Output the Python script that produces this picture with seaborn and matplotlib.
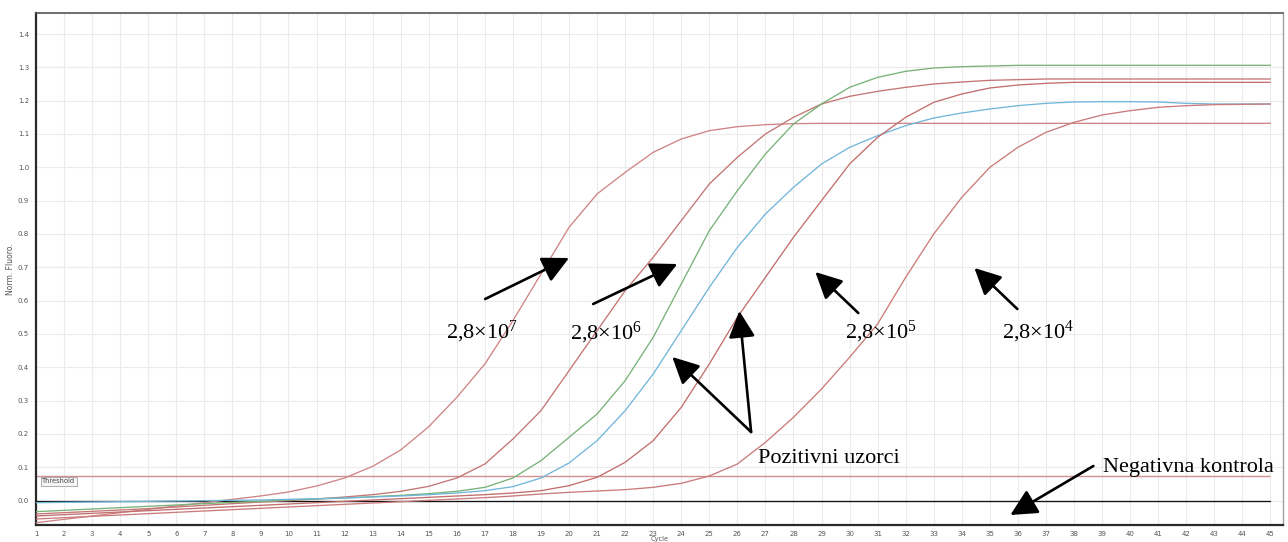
import matplotlib
matplotlib.use("Agg")
import matplotlib.pyplot as plt
import numpy as np
import pandas as pd
import seaborn as sns

# ---- amplification data (normalised fluorescence per cycle) ----
cycles = list(range(1, 46))

std_2_8e7 = [-0.066, -0.056, -0.046, -0.036, -0.026, -0.016, -0.006, 0.004, 0.014, 0.026,
             0.044, 0.068, 0.103, 0.152, 0.222, 0.310, 0.410, 0.540, 0.680, 0.820,
             0.920, 0.985, 1.045, 1.085, 1.110, 1.122, 1.128, 1.131, 1.132, 1.132,
             1.132, 1.132, 1.132, 1.132, 1.132, 1.132, 1.132, 1.132, 1.132, 1.132,
             1.132, 1.132, 1.132, 1.132, 1.132]

std_2_8e6 = [-0.040, -0.036, -0.032, -0.028, -0.024, -0.019, -0.014, -0.009, -0.004, 0.000,
             0.005, 0.011, 0.018, 0.028, 0.043, 0.068, 0.110, 0.185, 0.270, 0.390,
             0.510, 0.630, 0.730, 0.840, 0.950, 1.030, 1.100, 1.150, 1.190, 1.213,
             1.228, 1.240, 1.250, 1.256, 1.261, 1.263, 1.265, 1.265, 1.265, 1.265,
             1.265, 1.265, 1.265, 1.265, 1.265]

sample_green = [-0.033, -0.029, -0.025, -0.021, -0.017, -0.013, -0.009, -0.005, -0.002, 0.002,
                0.005, 0.008, 0.012, 0.016, 0.021, 0.028, 0.040, 0.068, 0.120, 0.190,
                0.260, 0.360, 0.490, 0.650, 0.810, 0.930, 1.040, 1.130, 1.190, 1.240,
                1.270, 1.288, 1.298, 1.302, 1.304, 1.306, 1.306, 1.306, 1.306, 1.306,
                1.306, 1.306, 1.306, 1.306, 1.306]

sample_blue = [-0.006, -0.005, -0.004, -0.003, -0.002, -0.001, 0.000, 0.001, 0.002, 0.004,
               0.006, 0.008, 0.011, 0.014, 0.018, 0.023, 0.030, 0.042, 0.068, 0.113,
               0.180, 0.270, 0.380, 0.510, 0.640, 0.760, 0.860, 0.940, 1.010, 1.060,
               1.095, 1.125, 1.148, 1.163, 1.175, 1.185, 1.192, 1.196, 1.197, 1.197,
               1.196, 1.192, 1.190, 1.190, 1.190]

std_2_8e5 = [-0.046, -0.042, -0.038, -0.034, -0.030, -0.026, -0.022, -0.018, -0.014, -0.010,
             -0.006, -0.002, 0.002, 0.006, 0.010, 0.014, 0.018, 0.023, 0.030, 0.045,
             0.070, 0.115, 0.180, 0.280, 0.410, 0.550, 0.670, 0.790, 0.900, 1.010,
             1.090, 1.150, 1.195, 1.220, 1.238, 1.247, 1.252, 1.255, 1.255, 1.255,
             1.255, 1.255, 1.255, 1.255, 1.255]

std_2_8e4 = [-0.055, -0.051, -0.047, -0.043, -0.039, -0.035, -0.031, -0.027, -0.023, -0.019,
             -0.015, -0.011, -0.007, -0.003, 0.001, 0.005, 0.009, 0.014, 0.020, 0.025,
             0.029, 0.033, 0.040, 0.052, 0.074, 0.110, 0.175, 0.250, 0.335, 0.430,
             0.530, 0.670, 0.800, 0.910, 1.000, 1.060, 1.105, 1.135, 1.157, 1.170,
             1.180, 1.185, 1.188, 1.189, 1.190]

negative_control = [0.0, 0.0, 0.0, 0.0, 0.0, 0.0, 0.0, 0.0, 0.0, 0.0,
                    0.0, 0.0, 0.0, 0.0, 0.0, 0.0, 0.0, 0.0, 0.0, 0.0,
                    0.0, 0.0, 0.0, 0.0, 0.0, 0.0, 0.0, 0.0, 0.0, 0.0,
                    0.0, 0.0, 0.0, 0.0, 0.0, 0.0, 0.0, 0.0, 0.0, 0.0,
                    0.0, 0.0, 0.0, 0.0, 0.0]

threshold = 0.075

y_ticks = [0.0, 0.1, 0.2, 0.3, 0.4, 0.5, 0.6, 0.7, 0.8, 0.9, 1.0, 1.1, 1.2, 1.3, 1.4]

series = {
    "neg": negative_control,
    "2.8e7": std_2_8e7,
    "2.8e6": std_2_8e6,
    "green": sample_green,
    "blue": sample_blue,
    "2.8e5": std_2_8e5,
    "2.8e4": std_2_8e4,
}
palette = {
    "neg": "#111111",
    "2.8e7": "#cf8585",
    "2.8e6": "#c47575",
    "green": "#78b278",
    "blue": "#72b6da",
    "2.8e5": "#c26e6e",
    "2.8e4": "#ca7b7b",
}

df = pd.concat(
    [pd.DataFrame({"Cycle": cycles, "Norm. Fluoro.": v, "sample": k}) for k, v in series.items()],
    ignore_index=True,
)

# ---- figure ----
sns.set_theme(style="white")
plt.rcParams["font.family"] = ["DejaVu Sans"]
plt.rcParams["mathtext.fontset"] = "custom"
plt.rcParams["mathtext.rm"] = "Liberation Serif"
plt.rcParams["mathtext.it"] = "Liberation Serif:italic"

fig = plt.figure(figsize=(12.88, 5.42), dpi=100)
ax = fig.add_axes([36 / 1288, 17 / 542, (1283 - 36) / 1288, (525 - 13) / 542])

ax.set_xlim(1, 45.45)
ax.set_ylim(-0.073, 1.463)

# grid
ax.set_xticks(cycles)
ax.set_yticks(y_ticks)
ax.grid(True, color="#ebebeb", linewidth=0.8)
ax.set_axisbelow(True)

# threshold line
ax.hlines(threshold, 1, 45, color="#d09090", linewidth=1.0, zorder=2)

sns.lineplot(data=df, x="Cycle", y="Norm. Fluoro.", hue="sample", palette=palette,
             hue_order=list(series.keys()), linewidth=0.95, legend=False, ax=ax, zorder=3)

ax.text(1.22, 0.058, "Threshold", fontsize=4.8, color="#444444", va="center", ha="left",
        bbox=dict(boxstyle="square,pad=0.25", fc="#f5f5f5", ec="#a0a0a0", lw=0.6), zorder=4)

# spines
for side in ("left", "bottom"):
    ax.spines[side].set_color("#2a2a2a")
    ax.spines[side].set_linewidth(1.6)
ax.spines["top"].set_color("#555555")
ax.spines["top"].set_linewidth(1.2)
ax.spines["right"].set_color("#a0a0a0")
ax.spines["right"].set_linewidth(1.0)

ax.tick_params(axis="both", which="major", labelsize=5, colors="#555555",
               length=2, width=0.6, pad=3, direction="out")
ax.tick_params(axis="x", pad=2)
ax.set_yticklabels([f"{t:.1f}" for t in y_ticks])
ax.set_xticklabels([str(c) for c in cycles])
ax.set_xlabel("Cycle", fontsize=4.8, color="#555555", labelpad=-0.5)
ax.set_ylabel("Norm. Fluoro.", fontsize=5.5, color="#555555", labelpad=2)

# ---- annotations ----
serif = "Liberation Serif"
lab_kw = dict(fontsize=16, family=serif, color="black", ha="center", va="baseline")
arrow_kw = dict(arrowstyle="-|>,head_length=0.9,head_width=0.45", color="black",
                lw=1.9, shrinkA=0, shrinkB=0, mutation_scale=18)

ax.text(16.89, 0.488, r"2,8×10$^{7}$", **lab_kw)
ax.annotate("", xy=(20.0, 0.728), xytext=(17.01, 0.605), arrowprops=arrow_kw)

ax.text(21.31, 0.485, r"2,8×10$^{6}$", **lab_kw)
ax.annotate("", xy=(23.86, 0.710), xytext=(20.86, 0.590), arrowprops=arrow_kw)

ax.text(31.11, 0.488, r"2,8×10$^{5}$", **lab_kw)
ax.annotate("", xy=(28.78, 0.686), xytext=(30.31, 0.563), arrowprops=arrow_kw)

ax.text(36.73, 0.488, r"2,8×10$^{4}$", **lab_kw)
ax.annotate("", xy=(34.45, 0.698), xytext=(35.98, 0.575), arrowprops=arrow_kw)

ax.text(29.28, 0.113, "Pozitivni uzorci", **lab_kw)
ax.annotate("", xy=(23.68, 0.431), xytext=(26.49, 0.206), arrowprops=arrow_kw)
ax.annotate("", xy=(26.07, 0.569), xytext=(26.49, 0.206), arrowprops=arrow_kw)

ax.text(39.05, 0.086, "Negativna kontrola", fontsize=16, family=serif, color="black",
        ha="left", va="baseline", clip_on=False)
ax.annotate("", xy=(35.73, -0.043), xytext=(38.69, 0.104), arrowprops=arrow_kw)

fig.savefig("out.png", dpi=100, facecolor="white")
